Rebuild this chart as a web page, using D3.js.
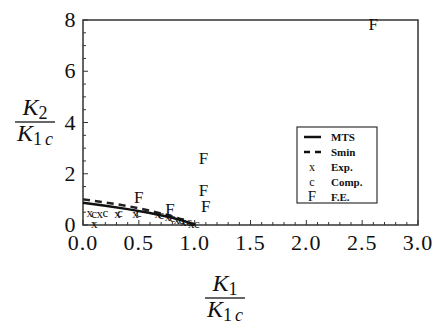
<!DOCTYPE html>
<html><head><meta charset="utf-8">
<script src="https://cdn.jsdelivr.net/npm/d3@7"></script>
</head><body style="margin:0">
<script>
// Data
const mtsK1 = [0, 0.2, 0.4, 0.6, 0.8, 0.9, 1.0];
const mtsK2 = [0.87, 0.75, 0.62, 0.47, 0.28, 0.16, 0.0];
const sminK1 = [0, 0.2, 0.4, 0.6, 0.8, 0.9, 1.0];
const sminK2 = [1.0, 0.88, 0.74, 0.56, 0.34, 0.2, 0.0];
const expK1 = [0.1, 0.06, 0.15, 0.31, 0.47, 0.67, 0.76, 0.84, 0.9, 0.97];
const expK2 = [0.05, 0.5, 0.45, 0.45, 0.45, 0.45, 0.35, 0.22, 0.15, 0.07];
const compK1 = [0.1, 0.2, 0.33, 0.5, 0.7, 0.8, 0.88, 0.95, 1.02];
const compK2 = [0.45, 0.48, 0.48, 0.48, 0.42, 0.3, 0.2, 0.12, 0.05];
const feK1 = [0.5, 0.78, 1.08, 1.08, 1.1, 2.6];
const feK2 = [1.1, 0.62, 2.6, 1.35, 0.75, 7.85];
const xTickLabels = ["0.0", "0.5", "1.0", "1.5", "2.0", "2.5", "3.0"];
const yTickLabels = ["0", "2", "4", "6", "8"];
const legendLabels = ["MTS", "Smin", "Exp.", "Comp.", "F.E."];

const W = 434, H = 332;
const FF = "'Liberation Serif'";
const svg = d3.select("body").append("svg").attr("width", W).attr("height", H)
  .style("font-family", FF);
const L = 83, R = 418, T = 20, B = 225;
const x = d3.scaleLinear().domain([0, 3]).range([L, R]);
const y = d3.scaleLinear().domain([0, 8]).range([B, T]);

// frame
svg.append("rect").attr("x", L).attr("y", T).attr("width", R - L).attr("height", B - T)
  .attr("fill", "none").attr("stroke", "#333").attr("stroke-width", 1.5);

// bottom ticks
const xMinor = d3.range(0, 3.0001, 0.1);
svg.append("g").selectAll("line").data(xMinor).join("line")
  .attr("x1", d => x(d)).attr("x2", d => x(d))
  .attr("y1", B).attr("y2", (d, i) => B - (i % 5 === 0 ? 5 : 3))
  .attr("stroke", "#333").attr("stroke-width", 1);
svg.append("g").selectAll("text").data(xTickLabels).join("text")
  .attr("x", d => x(+d)).attr("y", 250)
  .attr("text-anchor", "middle").style("font-family", FF).style("font-size", "22px")
  .style("letter-spacing", "1px").attr("fill", "#111").text(d => d);

// left ticks
const yMinor = d3.range(0, 8.0001, 0.5);
svg.append("g").selectAll("line").data(yMinor).join("line")
  .attr("x1", L).attr("x2", (d, i) => L + (i % 4 === 0 ? 5 : 3))
  .attr("y1", d => y(d)).attr("y2", d => y(d))
  .attr("stroke", "#333").attr("stroke-width", 1);
svg.append("g").selectAll("text").data(yTickLabels).join("text")
  .attr("x", 70).attr("y", d => y(+d) + 7)
  .attr("text-anchor", "middle").style("font-family", FF).style("font-size", "22px")
  .attr("fill", "#111").text(d => d);

// curves
const line = d3.line().x(d => x(d[0])).y(d => y(d[1]));
svg.append("path").datum(sminK1.map((k, i) => [k, sminK2[i]]))
  .attr("d", line).attr("fill", "none").attr("stroke", "#222").attr("stroke-width", 2.5)
  .attr("stroke-dasharray", "7,5");
svg.append("path").datum(mtsK1.map((k, i) => [k, mtsK2[i]]))
  .attr("d", line).attr("fill", "none").attr("stroke", "#111").attr("stroke-width", 2.5);

// markers
function marks(xs, ys, ch, size) {
  svg.append("g").selectAll("text").data(xs.map((k, i) => [k, ys[i]])).join("text")
    .attr("x", d => x(d[0])).attr("y", d => y(d[1]) + size * 0.35)
    .attr("text-anchor", "middle")
    .style("font-family", FF).style("font-size", size + "px").attr("fill", "#111").text(ch);
}
marks(expK1, expK2, "x", 13);
marks(compK1, compK2, "c", 13);
marks(feK1, feK2, "F", 17);

// legend
const lx = 297, ly = 127, lw = 80, lh = 76;
svg.append("rect").attr("x", lx).attr("y", ly).attr("width", lw).attr("height", lh)
  .attr("fill", "#fff").attr("stroke", "#333").attr("stroke-width", 1.2);
const rowY = i => ly + 10 + i * 15;
legendLabels.forEach((lab, i) => {
  const yy = rowY(i);
  if (i === 0) svg.append("line").attr("x1", 304).attr("x2", 321).attr("y1", yy).attr("y2", yy)
    .attr("stroke", "#111").attr("stroke-width", 2.5);
  else if (i === 1) svg.append("line").attr("x1", 304).attr("x2", 321).attr("y1", yy).attr("y2", yy)
    .attr("stroke", "#111").attr("stroke-width", 2.5).attr("stroke-dasharray", "6,5");
  else svg.append("text").attr("x", 312).attr("y", yy + 4).attr("text-anchor", "middle")
    .style("font-family", FF).style("font-size", (i === 4 ? 15 : 12) + "px").attr("fill", "#111")
    .text(["", "", "x", "c", "F"][i]);
  svg.append("text").attr("x", 331).attr("y", yy + 4)
    .style("font-family", FF).style("font-size", "11px").style("font-weight", "bold")
    .attr("fill", "#111").text(lab);
});

// axis labels (fractions)
function frac(cx, cyLine, num, numSub, den, denSub) {
  const g = svg.append("g").attr("fill", "#111");
  const t1 = g.append("text").attr("x", cx).attr("y", cyLine - 7).attr("text-anchor", "middle")
    .style("font-family", FF).style("font-size", "24px");
  t1.append("tspan").style("font-style", "italic").text(num);
  t1.append("tspan").style("font-size", "18px").attr("dy", 4).text(numSub);
  const t2 = g.append("text").attr("x", cx).attr("y", cyLine + 19).attr("text-anchor", "middle")
    .style("font-family", FF).style("font-size", "24px");
  t2.append("tspan").style("font-style", "italic").text(den);
  t2.append("tspan").style("font-size", "18px").attr("dy", 4).text("1");
  t2.append("tspan").style("font-size", "18px").style("font-style", "italic").attr("dx", 3).text(denSub);
  g.append("line").attr("x1", cx - 20).attr("x2", cx + 20).attr("y1", cyLine).attr("y2", cyLine)
    .attr("stroke", "#666").attr("stroke-width", 2);
}
frac(35, 122, "K", "2", "K", "c");
frac(225, 298, "K", "1", "K", "c");
</script>
</body></html>
